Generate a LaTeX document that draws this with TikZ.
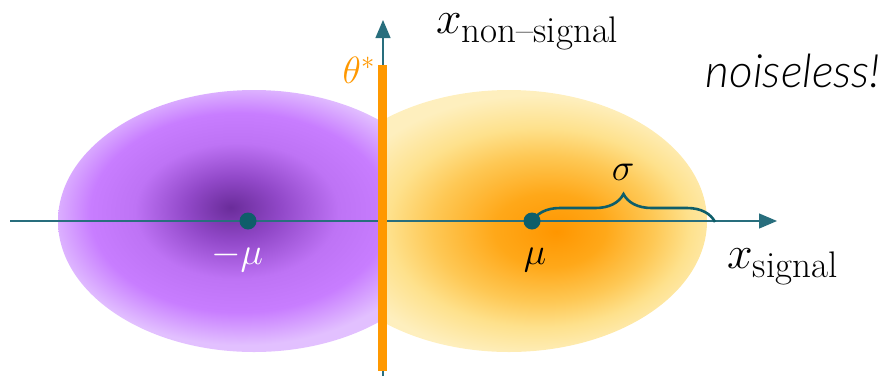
\RequirePackage{fix-cm}
\documentclass[tikz,border=0pt]{standalone}
\usepackage{amsmath}
\usepackage{fontspec}
\newfontfamily\notefont{Lato Light Italic}
\usetikzlibrary{arrows.meta,decorations.pathreplacing}
\definecolor{tealA}{RGB}{14,94,106}
\definecolor{axisC}{RGB}{40,110,125}
\definecolor{orng}{RGB}{255,152,0}
\definecolor{goldO}{RGB}{255,150,0}
\definecolor{goldA}{RGB}{255,168,25}
\definecolor{goldB}{RGB}{254,200,85}
\definecolor{goldC}{RGB}{254,225,140}
\definecolor{goldD}{RGB}{254,239,190}
\definecolor{purA}{RGB}{106,44,154}
\definecolor{purB}{RGB}{145,72,200}
\definecolor{purC}{RGB}{190,115,245}
\definecolor{purD}{RGB}{200,125,255}
\definecolor{purE}{RGB}{226,192,255}
\pgfdeclareradialshading{goldshade}{\pgfpoint{6bp}{-2bp}}{color(0bp)=(goldO); color(7bp)=(goldA); color(14bp)=(goldB); color(19bp)=(goldC); color(25bp)=(goldD); color(50bp)=(goldD)}
\pgfdeclareradialshading{purshade}{\pgfpoint{-3bp}{2.6bp}}{color(0bp)=(purA); color(6bp)=(purB); color(13bp)=(purC); color(19bp)=(purD); color(25bp)=(purE); color(50bp)=(purE)}
\tikzset{
  axis/.style={draw=axisC, line width=1.2pt, -{Triangle[length=18pt,width=15pt]}},
  dot/.style={circle, fill=tealA, inner sep=0pt, minimum size=17pt},
  bigmath/.style={font=\fontsize{46}{52}\selectfont, inner sep=0pt},
  greek/.style={font=\fontsize{38}{44}\selectfont, inner sep=0pt},
}
\newcommand{\subtxt}[1]{\text{\fontsize{37}{42}\selectfont #1}}
\begin{document}
\begin{tikzpicture}[x=1pt,y=-1pt]
\useasboundingbox (0,0) rectangle (890,376);
% distributions, each cut at the decision boundary
\begin{scope}
  \clip (0,0) rectangle (380,376);
  \shade[shading=purshade] (254,221) ellipse [x radius=196, y radius=131];
\end{scope}
\begin{scope}
  \clip (385,0) rectangle (890,376);
  \shade[shading=goldshade] (509,221) ellipse [x radius=198, y radius=131];
\end{scope}
% axes
\coordinate (hL) at (10,221);
\coordinate (hR) at (777,221);
\coordinate (vB) at (383,376);
\coordinate (vT) at (383,20);
\draw[axis] (hL) -- (hR);
\draw[axis] (vB) -- (vT);
% decision boundary
\fill[orng] (378,65) rectangle (387,371);
% means
\node[dot] (mneg) at (248,221) {};
\node[dot] (mpos) at (532,221) {};
\coordinate (sigEnd) at (715,222);
\draw[tealA, line width=2.6pt, decorate, decoration={brace, amplitude=28pt}] ([yshift=-1pt]mpos.center) -- (sigEnd);
% labels
\node[bigmath, anchor=base west] (xns) at (436,33) {$x_{\subtxt{non--signal}}$};
\node[bigmath, anchor=base west] (xs) at (727,268) {$x_{\subtxt{signal}}$};
\node[greek, text=orng, anchor=base east] (theta) at (375,83) {$\theta^*$};
\node[greek, text=white, anchor=base] (lneg) at (237,264) {$-\mu$};
\node[greek, anchor=base] (lpos) at (535,264) {$\mu$};
\node[greek, anchor=base] (lsig) at (623,180) {$\sigma$};
\node[font=\notefont\fontsize{46}{52}\selectfont, inner sep=0pt, anchor=base east] (note) at (881,87) {noiseless!};
\end{tikzpicture}
\end{document}
